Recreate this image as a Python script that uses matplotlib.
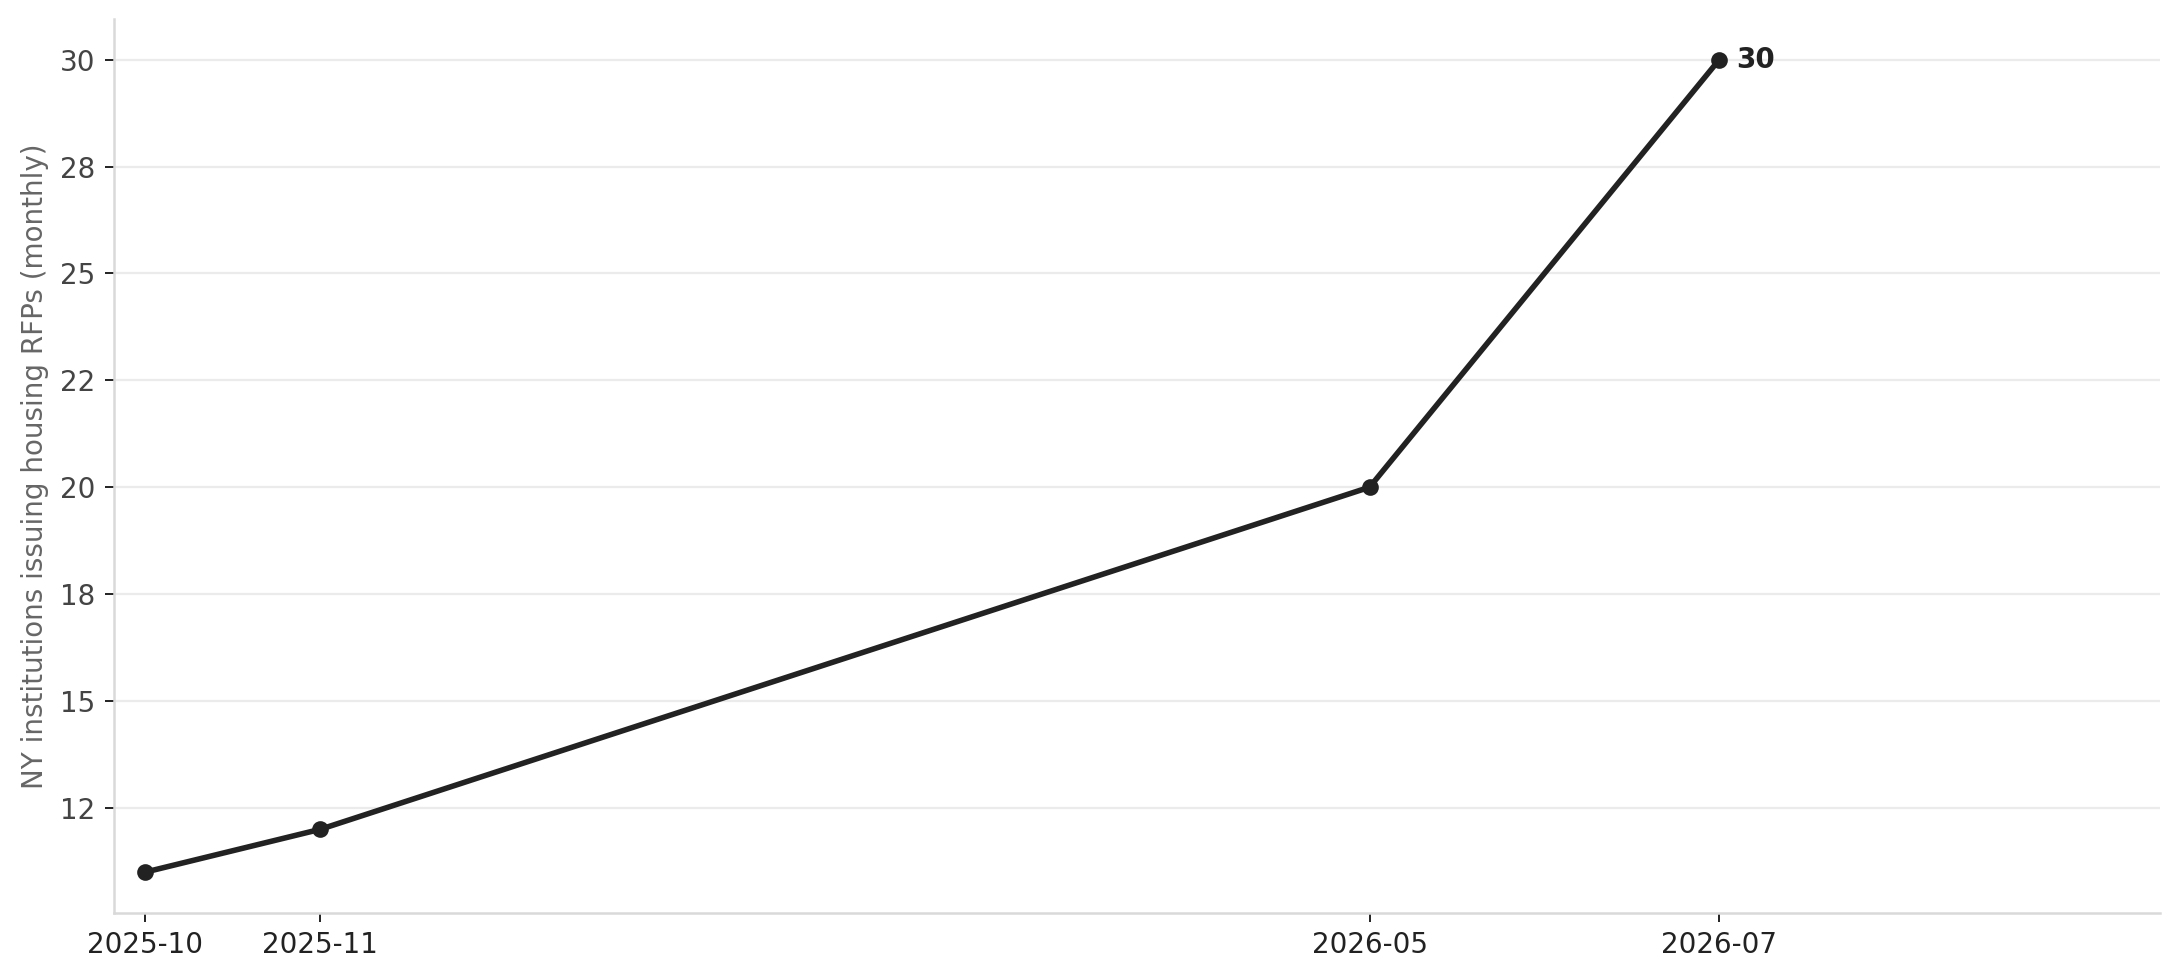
import matplotlib
matplotlib.use("Agg")
import matplotlib.pyplot as plt

# Data
months = ["2025-10", "2025-11", "2026-05", "2026-07"]
month_index = [0, 1, 7, 9]          # months since 2025-10
values = [11, 12, 20, 30]
y_ticks = [12.5, 15, 17.5, 20, 22.5, 25, 27.5, 30]
y_tick_labels = ["12", "15", "18", "20", "22", "25", "28", "30"]
y_label = "NY institutions issuing housing RFPs (monthly)"

plt.rcParams['font.family'] = ['DejaVu Sans']

fig = plt.figure(figsize=(10.9, 4.9), dpi=200)
ax = fig.add_axes([0.0523, 0.0687, 0.9385, 0.9119])

ax.plot(month_index, values, color="#222222", lw=2.0, marker="o", ms=5, zorder=3)
ax.annotate(f"{values[-1]}", (month_index[-1], values[-1]), xytext=(6, 0),
            textcoords="offset points", ha="left", va="center",
            fontsize=10, fontweight="bold", color="#222222")

span = month_index[-1] - month_index[0]
ax.set_xlim(month_index[0] - 0.02 * span, month_index[-1] + 0.28 * span)
ax.margins(y=0.05)
ax.set_xticks(month_index)
ax.set_xticklabels(months)
ax.set_yticks(y_ticks)
ax.set_yticklabels(y_tick_labels)

ax.grid(axis="y", color="#ebebeb", lw=0.8, zorder=0)
ax.set_axisbelow(True)
for s in ["top", "right"]:
    ax.spines[s].set_visible(False)
for s in ["left", "bottom"]:
    ax.spines[s].set_color("#d9d9d9")
    ax.spines[s].set_linewidth(0.9)

ax.tick_params(axis="y", labelsize=10, labelcolor="#444444", color="#222222",
               length=3.2, width=0.7)
ax.tick_params(axis="x", labelsize=10, labelcolor="#222222", color="#222222",
               length=3.2, width=0.7)
ax.set_ylabel(y_label, fontsize=10, color="#666666", labelpad=4)

fig.savefig("out.png", dpi=200)
